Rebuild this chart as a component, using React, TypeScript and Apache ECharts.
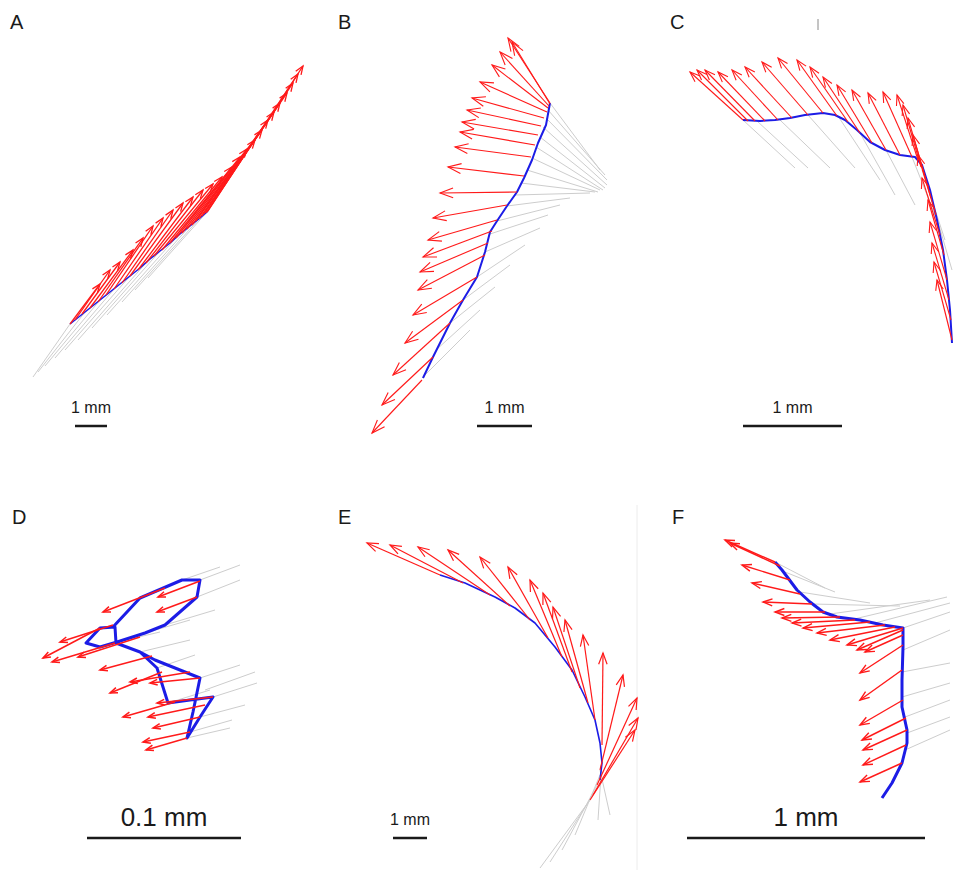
import { useEffect, useRef } from 'react';
import * as echarts from 'echarts';

type P = [number, number];
type S = [number, number, number, number];

// ---------- Panel A ----------
const pathA: P[] = [[70,324],[80,316],[90,308],[100,300],[110,292],[120,284],[130,276],[140,268],[150,259],[160,251],[170,243],[180,234],[190,226],[200,218],[208,211]];
const arrowsA: S[] = [
  [70,324,100,284],[75,320,110,270],[82,314,120,262],[90,308,133,250],[98,302,143,238],
  [106,295,153,226],[114,289,163,218],[122,283,173,210],[130,276,183,203],[138,270,193,197],
  [146,263,203,190],[154,256,213,184],[162,250,222,177],[170,243,232,167],[176,238,240,157],
  [182,233,247,149],[187,229,255,140],[192,225,262,130],[196,221,268,120],[199,219,274,112],
  [202,216,280,103],[204,214,287,93],[206,213,293,83],[207,212,298,74],[208,211,303,66]
];
const graysA: S[] = [
  [70,324,33,377],[85,312,38,372],[100,300,45,366],[115,288,55,358],[130,276,65,350],
  [145,264,78,340],[160,251,92,328],[175,239,107,315],[190,226,122,302],[200,218,135,290],[208,211,148,278]
];

// ---------- Panel B ----------
const pathB: P[] = [[550,103],[546,125],[538,143],[532,160],[524,178],[517,192],[507,206],[497,221],[490,232],[485,252],[477,277],[463,300],[450,323],[433,357],[423,378]];
const arrowsB: S[] = [
  [550,103,508,38],[550,104,512,42],[549,106,500,52],[548,108,492,65],[547,112,480,82],
  [544,118,472,98],[541,126,467,110],[538,135,462,122],[535,145,460,132],[531,157,455,147],
  [524,176,448,167],[517,192,440,193],[507,205,433,218],[497,220,428,240],[492,231,423,257],
  [488,243,420,272],[485,255,418,290],[477,277,413,315],[463,300,405,343],[450,323,393,375],
  [433,357,382,405],[422,380,372,433]
];
const graysB: S[] = [
  [550,103,600,170],[548,110,605,175],[546,118,607,180],[543,127,607,185],[540,137,605,188],
  [536,147,603,190],[532,158,600,190],[527,170,598,192],[521,183,595,192],[515,195,590,193],
  [507,206,570,198],[497,221,560,205],[490,234,548,215],[485,252,540,228],[477,277,525,245],
  [463,300,510,265],[450,323,495,287],[436,350,480,310],[422,378,470,330]
];

// ---------- Panel C ----------
const pathC: P[] = [[743,120],[760,121],[775,120],[790,118],[805,115],[823,113],[835,115],[845,120],[857,130],[870,142],[885,150],[900,155],[915,157],[922,165],[930,190],[937,220],[943,250],[947,280],[950,310],[952,343]];
const arrowsC: S[] = [
  [743,120,690,72],[748,121,697,70],[755,121,705,70],[765,121,718,72],[778,120,732,70],
  [792,118,745,67],[808,115,762,62],[823,113,778,58],[837,116,797,60],[848,122,810,67],
  [860,133,823,77],[872,143,837,85],[886,150,852,90],[900,155,868,93],[912,157,883,92],
  [918,160,897,95],[921,167,903,105],[926,180,908,118],[931,198,913,135],[936,215,918,155],
  [940,235,922,178],[944,255,928,200],[947,280,930,222],[949,300,932,243],[951,320,934,262],[952,340,937,280]
];
const graysC: S[] = [
  [743,120,795,168],[757,121,808,168],[780,120,830,168],[808,115,855,168],[838,116,880,180],
  [860,133,895,195],[886,150,915,205],[912,157,935,215],[922,170,945,240],[933,205,952,270]
];
const tickC: S[] = [[818,19,818,30]];

// ---------- Panel D ----------
const pathD: P[] = [[113,627],[140,598],[182,580],[200,580],[197,597],[165,625],[145,633],[117,642],[100,647],[86,643],[100,628],[115,627],[116,643],[140,652],[157,668],[168,703],[190,700],[213,697],[200,717],[187,738],[193,712],[200,678],[175,668],[155,660],[140,652]];
const arrowsD: S[] = [
  [165,588,103,612],[200,581,158,597],[197,597,157,612],[113,625,60,642],[100,628,43,658],
  [115,643,52,662],[140,637,78,657],[152,656,100,670],[190,672,130,682],[200,678,150,683],
  [162,672,110,693],[213,697,157,703],[175,702,123,717],[205,705,148,717],[200,717,153,728],
  [190,732,143,742],[187,738,146,750]
];
const graysD: S[] = [
  [182,580,220,567],[200,580,240,565],[197,597,240,580],[165,625,215,610],[145,633,190,620],
  [117,642,160,632],[140,652,190,640],[157,668,195,655],[200,678,240,665],[213,697,257,683],
  [205,690,255,672],[200,717,245,705],[190,732,232,720],[187,738,230,728],[168,703,210,690]
];

// ---------- Panel E ----------
const pathE: P[] = [[440,575],[465,583],[495,597],[515,608],[535,623],[555,647],[572,670],[585,697],[595,720],[600,743],[602,763],[600,780]];
const arrowsE: S[] = [
  [440,575,367,543],[463,583,390,545],[490,595,418,547],[510,606,448,550],[530,620,480,557],
  [548,638,508,567],[562,657,530,580],[572,672,543,593],[580,688,553,607],[588,703,565,620],
  [595,720,583,635],[602,745,603,653],[600,770,623,675],[597,785,637,698],[593,795,638,718],[590,800,635,730]
];
const graysE: S[] = [
  [590,800,540,868],[593,795,550,862],[597,785,562,850],[600,775,575,835],[602,760,598,820],[600,770,610,815]
];
const borderE: S[] = [[637,505,637,870]];

// ---------- Panel F ----------
const pathF: P[] = [[775,562],[782,570],[797,590],[810,602],[823,612],[837,617],[860,620],[883,625],[903,628],[903,647],[902,680],[902,707],[907,730],[907,743],[902,763],[892,783],[882,798]];
const arrowsF: S[] = [
  [775,562,725,540],[780,566,730,543],[790,580,742,565],[800,594,752,583],[812,604,763,602],
  [825,612,775,612],[840,617,782,618],[855,620,792,623],[870,622,803,628],[885,625,817,633],
  [895,627,830,640],[903,628,847,645],[903,630,857,650],[903,635,865,652],[903,645,860,673],
  [902,670,860,700],[903,700,860,725],[906,718,862,740],[907,730,863,750],[906,745,863,765],[902,763,860,782]
];
const graysF: S[] = [
  [775,562,825,588],[785,572,835,592],[800,592,870,603],[812,604,900,606],[830,614,930,600],
  [850,620,947,597],[875,623,950,603],[903,628,950,612],[903,650,950,630],[902,672,950,663],
  [902,697,950,683],[905,717,950,700],[907,733,950,717],[905,750,950,730]
];

// ---------- Labels / scale bars ----------
const panelLetters = ['A', 'B', 'C', 'D', 'E', 'F'];
const scaleBarLabels = ['1 mm', '1 mm', '1 mm', '0.1 mm', '1 mm', '1 mm'];
const scaleBars: [number, number, number][] = [
  [75, 107, 426], [477, 532, 426], [743, 842, 426], [87, 241, 838], [393, 427, 838], [687, 925, 838]
];

const RED = '#ff1a1a';
const BLUE = '#1c1ce6';
const GRAY = '#cdcdcd';
const FONT = '"Liberation Sans", Arial, sans-serif';

function segSeries(data: S[], color: string, width: number, head: number, z: number) {
  return {
    type: 'custom',
    coordinateSystem: 'cartesian2d',
    data,
    encode: { x: [0, 2], y: [1, 3] },
    clip: false,
    silent: true,
    z,
    renderItem: (_params: any, api: any) => {
      const p0 = api.coord([api.value(0), api.value(1)]);
      const p1 = api.coord([api.value(2), api.value(3)]);
      const children: any[] = [
        { type: 'line', shape: { x1: p0[0], y1: p0[1], x2: p1[0], y2: p1[1] }, style: { stroke: color, lineWidth: width } }
      ];
      if (head > 0) {
        const dx = p1[0] - p0[0];
        const dy = p1[1] - p0[1];
        const len = Math.hypot(dx, dy) || 1;
        const ux = dx / len, uy = dy / len;
        const a = 0.36;
        const c = Math.cos(a), s = Math.sin(a);
        const b1 = [p1[0] - head * (ux * c - uy * s), p1[1] - head * (uy * c + ux * s)];
        const b2 = [p1[0] - head * (ux * c + uy * s), p1[1] - head * (uy * c - ux * s)];
        children.push({
          type: 'polyline',
          shape: { points: [b1, [p1[0], p1[1]], b2] },
          style: { stroke: color, fill: 'none', lineWidth: width }
        });
      }
      return { type: 'group', children };
    }
  };
}

function pathSeries(data: P[], width: number) {
  return {
    type: 'line',
    data,
    showSymbol: false,
    symbol: 'none',
    silent: true,
    z: 3,
    lineStyle: { color: BLUE, width, join: 'round' },
    clip: false
  };
}

const panels = [
  { path: pathA, arrows: arrowsA, grays: graysA, blueW: 1.6, redW: 1.3, head: 9 },
  { path: pathB, arrows: arrowsB, grays: graysB, blueW: 2, redW: 1.1, head: 14 },
  { path: pathC, arrows: arrowsC, grays: graysC, blueW: 2, redW: 1.1, head: 11 },
  { path: pathD, arrows: arrowsD, grays: graysD, blueW: 3, redW: 1.5, head: 8 },
  { path: pathE, arrows: arrowsE, grays: graysE, blueW: 1.6, redW: 1.2, head: 12 },
  { path: pathF, arrows: arrowsF, grays: graysF, blueW: 3, redW: 1.4, head: 10 }
];

const letterXY: P[] = [[10, 22], [338, 22], [670, 22], [12, 517], [338, 517], [672, 517]];
const scaleFont = [16, 16, 16, 26, 16, 26];

export default function App() {
  const ref = useRef<HTMLDivElement>(null);
  useEffect(() => {
    if (!ref.current) return;
    const chart = echarts.init(ref.current, undefined, { renderer: 'svg' });
    const series: any[] = [];
    panels.forEach((p) => {
      series.push(segSeries(p.grays, GRAY, 1, 0, 1));
      series.push(pathSeries(p.path, p.blueW));
      series.push(segSeries(p.arrows, RED, p.redW, p.head, 4));
    });
    series.push(segSeries(tickC, '#8a8a8a', 1, 0, 1));
    series.push(segSeries(borderE, '#ececec', 1, 0, 1));
    series.push({
      type: 'custom',
      coordinateSystem: 'cartesian2d',
      data: scaleBars,
      encode: { x: [0, 1], y: [2] },
      clip: false,
      silent: true,
      z: 5,
      renderItem: (params: any, api: any) => {
        const a = api.coord([api.value(0), api.value(2)]);
        const b = api.coord([api.value(1), api.value(2)]);
        const fs = scaleFont[params.dataIndex];
        return {
          type: 'group',
          children: [
            { type: 'line', shape: { x1: a[0], y1: a[1], x2: b[0], y2: b[1] }, style: { stroke: '#1a1a1a', lineWidth: 2.5 } },
            {
              type: 'text',
              x: (a[0] + b[0]) / 2,
              y: a[1] - (fs > 20 ? 21 : 19),
              style: {
                text: scaleBarLabels[params.dataIndex],
                fill: '#1a1a1a',
                fontSize: fs,
                fontFamily: FONT,
                align: 'center',
                verticalAlign: 'middle'
              }
            }
          ]
        };
      }
    });

    chart.setOption({
      animation: false,
      backgroundColor: '#ffffff',
      grid: { left: 0, top: 0, right: 0, bottom: 0 },
      xAxis: { type: 'value', min: 0, max: 954, show: false },
      yAxis: { type: 'value', min: 0, max: 870, inverse: true, show: false },
      graphic: panelLetters.map((t, i) => ({
        type: 'text',
        x: letterXY[i][0],
        y: letterXY[i][1],
        style: { text: t, fill: '#1a1a1a', fontSize: 20, fontFamily: FONT, verticalAlign: 'middle', align: 'left' }
      })),
      series
    });
    return () => chart.dispose();
  }, []);
  return <div ref={ref} style={{ position: 'fixed', left: 0, top: 0, width: 954, height: 870 }} />;
}
